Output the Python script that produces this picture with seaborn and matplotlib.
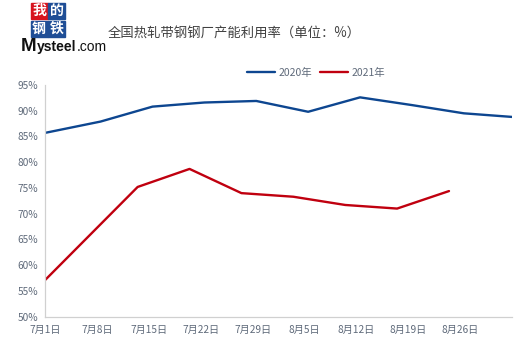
import numpy as np
import pandas as pd
import matplotlib
matplotlib.use('Agg')
import matplotlib.pyplot as plt
from matplotlib.patches import Rectangle
from matplotlib.lines import Line2D
import seaborn as sns

# 数据：全国热轧带钢钢厂产能利用率（%），x 为自 7月1日 起的天数
days_2020 = [0, 7.5, 14.5, 21.5, 28.5, 35.5, 42.5, 49.5, 56.5, 63]
util_2020 = [85.7, 87.9, 90.8, 91.6, 91.9, 89.8, 92.6, 91.1, 89.5, 88.8]
days_2021 = [0, 12.5, 19.5, 26.5, 33.5, 40.5, 47.5, 54.5]
util_2021 = [57.1, 75.2, 78.7, 74.0, 73.3, 71.7, 71.0, 74.4]

tick_days = [0, 7, 14, 21, 28, 35, 42, 49, 56, 63]
tick_labels = ['7月1日', '7月8日', '7月15日', '7月22日', '7月29日',
               '8月5日', '8月12日', '8月19日', '8月26日', '']
y_ticks = [50, 55, 60, 65, 70, 75, 80, 85, 90, 95]

df = pd.concat([
    pd.DataFrame({'day': days_2020, 'util': util_2020, 'year': '2020年'}),
    pd.DataFrame({'day': days_2021, 'util': util_2021, 'year': '2021年'}),
])

sns.set_theme(style='white')
plt.rcParams['font.family'] = ['Noto Sans CJK SC', 'DejaVu Sans']

W, H = 520, 353
fig = plt.figure(figsize=(W / 100, H / 100), dpi=100)

def fx(x):
    return x / W

def fy(y):
    return 1 - y / H

ax = fig.add_axes([fx(45), fy(316.7), fx(512) - fx(45), fy(85) - fy(316.7)])

palette = {'2020年': '#0d4690', '2021年': '#c0000f'}
sns.lineplot(data=df, x='day', y='util', hue='year', palette=palette,
             linewidth=1.7, ax=ax, legend=False)

ax.set_xlim(0, 63)
ax.set_ylim(50, 95)
ax.set_xticks(tick_days)
ax.set_xticklabels(tick_labels)
ax.set_yticks(y_ticks)
ax.set_yticklabels([f'{v}%' for v in y_ticks])
ax.set_xlabel('')
ax.set_ylabel('')

for s in ['top', 'right']:
    ax.spines[s].set_visible(False)
for s in ['left', 'bottom']:
    ax.spines[s].set_color('#d0d0d0')
    ax.spines[s].set_linewidth(0.9)
ax.tick_params(axis='both', colors='#d0d0d0', labelcolor='#5f6a7a',
               labelsize=7.3, direction='out', length=3, width=0.9, pad=2)
ax.tick_params(axis='x', pad=3)

# 图例
handles = [Line2D([], [], color=palette[k], linewidth=1.7) for k in palette]
fig.legend(handles, list(palette.keys()), loc='center', ncol=2,
           bbox_to_anchor=(fx(316), fy(73)), frameon=False, fontsize=7.5,
           handlelength=2.7, handletextpad=0.3, columnspacing=0.8,
           labelcolor='#5f6a7a')

# 标题
fig.text(fx(108), fy(34), '全国热轧带钢钢厂产能利用率（单位：%）', fontsize=9.6,
         color='#404040', ha='left', va='center')

# Logo
boxes = [('我', 30.5, 2.5, '#d7141e'), ('的', 48.3, 2.5, '#1f4e96'),
         ('钢', 30.5, 20.5, '#1f4e96'), ('铁', 48.3, 20.5, '#1f4e96')]
for ch, bx, by, col in boxes:
    fig.patches.append(Rectangle((fx(bx), fy(by + 16.5)), 17 / W, 16.5 / H,
                                 transform=fig.transFigure, color=col,
                                 zorder=1))
    fig.text(fx(bx + 8.5), fy(by + 8.3), ch, fontsize=10, fontweight='bold',
             color='white', ha='center', va='center', zorder=2)
fig.text(fx(21), fy(51), 'M', fontsize=13.5, fontweight='bold', color='#111111',
         ha='left', va='baseline', family='Liberation Sans')
fig.text(fx(37), fy(51), 'ysteel', fontsize=10, fontweight='bold',
         color='#111111', ha='left', va='baseline', family='Liberation Sans')
fig.text(fx(76.5), fy(51), '.com', fontsize=10, color='#111111',
         ha='left', va='baseline', family='Liberation Sans')

fig.savefig('out.png', dpi=100)
